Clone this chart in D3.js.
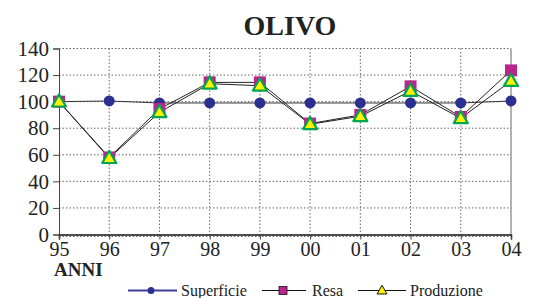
<!DOCTYPE html>
<html><head><meta charset="utf-8">
<script src="https://cdn.jsdelivr.net/npm/d3@7"></script>
<style>body{margin:0;background:#fff}svg{display:block}text{font-family:"Liberation Serif","Times New Roman",serif}</style>
</head><body>
<svg id="c" width="547" height="298"></svg>
<script>
const years = ["95","96","97","98","99","00","01","02","03","04"];
const superficie = [100, 100.5, 99, 99, 99, 99, 99, 99, 99, 100.5];
const resa = [100, 58, 94.5, 114.5, 114.5, 83.5, 90, 111.5, 88.5, 123.5];
const produzione = [100, 57.5, 92, 113.5, 112, 83, 89, 108, 87.5, 115.5];
const yTicks = [0, 20, 40, 60, 80, 100, 120, 140];
const title = "OLIVO";
const xTitle = "ANNI";
const seriesNames = ["Superficie", "Resa", "Produzione"];

const svg = d3.select("#c");
const L = 59, R = 511, T = 48.5, B = 234.5;
const x = d3.scalePoint().domain(years).range([L, R]);
const y = d3.scaleLinear().domain([0, 140]).range([B, T]);
const serif = "'Liberation Serif','Times New Roman',serif";

// grid
const g = svg.append("g");
g.selectAll(".hg").data(yTicks.filter(d => d > 0)).enter().append("line")
  .attr("x1", L).attr("x2", R).attr("y1", d => y(d)).attr("y2", d => y(d))
  .attr("stroke", "#666").attr("stroke-width", 1).attr("stroke-dasharray", "1.5,2");
g.selectAll(".vg").data(years.slice(1, -1)).enter().append("line")
  .attr("x1", d => x(d)).attr("x2", d => x(d)).attr("y1", T).attr("y2", B)
  .attr("stroke", "#666").attr("stroke-width", 1).attr("stroke-dasharray", "1.5,2");
g.append("line").attr("x1", L).attr("x2", R).attr("y1", B + 2).attr("y2", B + 2)
  .attr("stroke", "#666").attr("stroke-dasharray", "1.5,2");
g.append("line").attr("x1", R).attr("x2", R).attr("y1", T).attr("y2", B).attr("stroke", "#666");

// axes
const yAxis = d3.axisLeft(y).tickValues(yTicks).tickSize(6).tickPadding(4);
const ya = svg.append("g").attr("transform", `translate(${L},0)`).call(yAxis);
ya.attr("font-family", null);
ya.select(".domain").attr("stroke", "#444");
ya.selectAll(".tick line").attr("stroke", "#444");
ya.selectAll("text").attr("font-size", 21).attr("fill", "#222").style("font-family", serif);

const xAxis = d3.axisBottom(x).tickSize(5).tickPadding(2);
const xa = svg.append("g").attr("transform", `translate(0,${B})`).call(xAxis);
xa.attr("font-family", null);
xa.select(".domain").attr("stroke", "#111").attr("stroke-width", 1.5);
xa.selectAll(".tick line").attr("stroke", "#444");
xa.selectAll("text").attr("font-size", 20).attr("fill", "#222").style("font-family", serif);

// title
svg.append("text").attr("x", 290).attr("y", 35).attr("text-anchor", "middle")
  .attr("font-size", 28).attr("font-weight", "bold").attr("fill", "#222").text(title);
svg.append("text").attr("x", 54).attr("y", 276)
  .attr("font-size", 19).attr("font-weight", "bold").attr("fill", "#222").text(xTitle);

// lines
const line = d3.line().x((d, i) => x(years[i])).y(d => y(d));
svg.append("path").datum(superficie).attr("d", line).attr("fill", "none").attr("stroke", "#333").attr("stroke-width", 1);
svg.append("path").datum(resa).attr("d", line).attr("fill", "none").attr("stroke", "#222").attr("stroke-width", 1);
svg.append("path").datum(produzione).attr("d", line).attr("fill", "none").attr("stroke", "#222").attr("stroke-width", 1);

const navy = "#2b3090", mag = "#b8268c", yel = "#fff200", grn = "#00a651";
function circle(sel, r) { sel.append("circle").attr("r", r).attr("fill", navy); }
function square(sel, s) { sel.append("rect").attr("x", -s/2).attr("y", -s/2).attr("width", s).attr("height", s).attr("fill", mag); }
function tri(sel, s, sw, col) {
  const h = s * 0.87;
  sel.append("path").attr("d", `M0,${-h*0.6}L${s/2},${h*0.4}L${-s/2},${h*0.4}Z`)
    .attr("fill", yel).attr("stroke", col).attr("stroke-width", sw).attr("stroke-linejoin", "round");
}
superficie.forEach((v, i) => circle(svg.append("g").attr("transform", `translate(${x(years[i])},${y(v)})`), 5.5));
resa.forEach((v, i) => square(svg.append("g").attr("transform", `translate(${x(years[i])},${y(v)})`), 12));
produzione.forEach((v, i) => tri(svg.append("g").attr("transform", `translate(${x(years[i])},${y(v)})`), 14, 2.2, grn));

// legend
const ly = 290.5;
const leg = [
  {x1: 128, x2: 177, mx: 151, tx: 181, col: "#3a3f9c", sw: 2, m: s => circle(s, 3.5)},
  {x1: 262, x2: 306, mx: 283, tx: 312, col: "#111", sw: 1, m: s => { s.append("rect").attr("x", -4).attr("y", -4).attr("width", 8).attr("height", 8).attr("fill", mag).attr("stroke", "#111").attr("stroke-width", 0.8); }},
  {x1: 358, x2: 406, mx: 382, tx: 410, col: "#111", sw: 1, m: s => tri(s, 10, 1, "#111")}
];
leg.forEach((d, i) => {
  svg.append("text").attr("x", d.tx).attr("y", 296).attr("font-size", 16).attr("fill", "#222")
    .style("font-family", serif).text(seriesNames[i]);
  svg.append("line").attr("x1", d.x1).attr("x2", d.x2).attr("y1", ly).attr("y2", ly).attr("stroke", d.col).attr("stroke-width", d.sw);
  d.m(svg.append("g").attr("transform", `translate(${d.mx},${ly})`));
});
</script>
</body></html>
